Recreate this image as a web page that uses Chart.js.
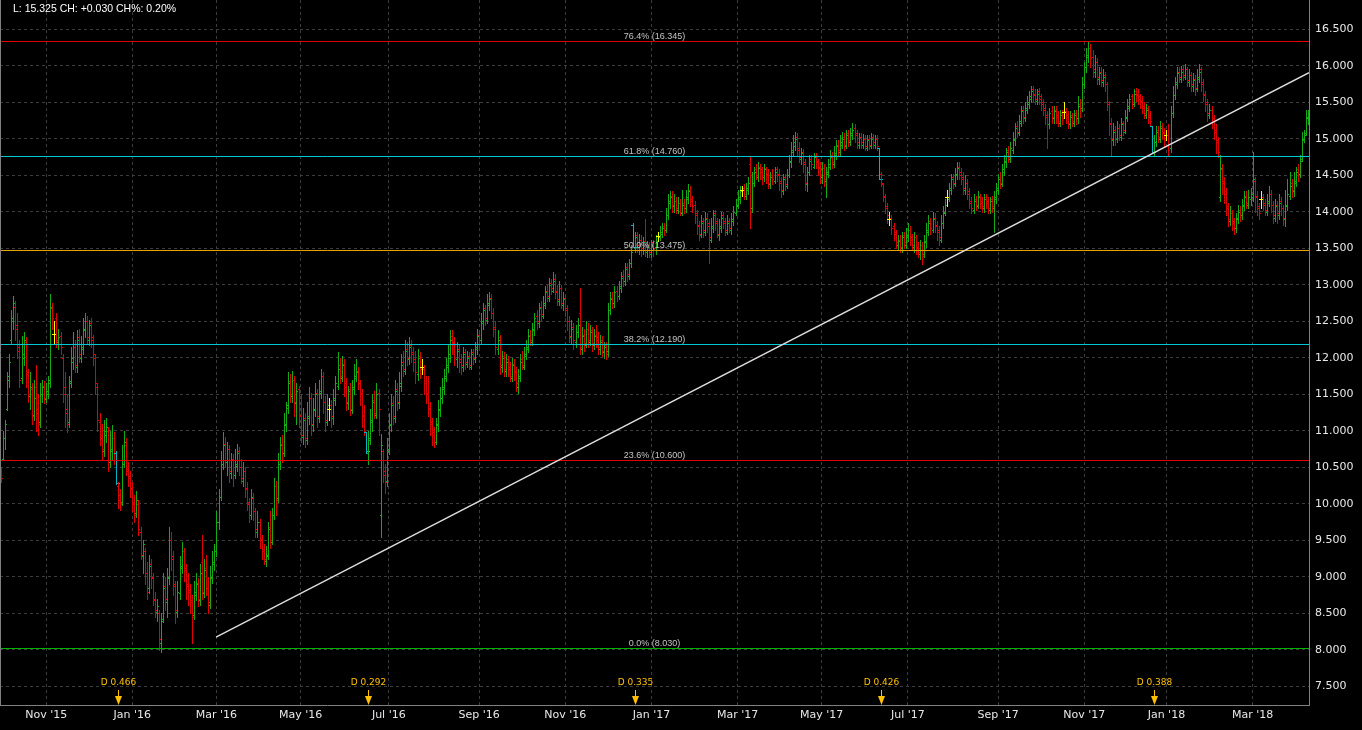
<!DOCTYPE html>
<html><head><meta charset="utf-8">
<script src="https://cdn.jsdelivr.net/npm/chart.js@4.4.1/dist/chart.umd.min.js"></script>
<style>html,body{margin:0;padding:0;background:#000;overflow:hidden}#wrap{width:1362px;height:730px;position:relative;background:#000}</style>
</head><body><div id="wrap"><canvas id="c"></canvas></div>
<script>
// Daily OHLC prices in cents, index 0 = 1 Oct 2015
const opens=[
1045,1062,1090,1130,1170,1225,1250,1270,1245,1210,
1172,1200,1222,1178,1148,1158,1122,1160,1130,1112,
1150,1162,1143,1150,1170,1268,1233,1255,1222,1230,
1200,1160,1130,1112,1168,1195,1215,1188,1228,1200,
1212,1238,1250,1225,1248,1228,1200,1160,1112,1095,
1072,1095,1100,1058,1072,1090,1070,1025,1012,1002,
1055,1080,1048,1038,1022,1002,988,1000,962,928,
935,905,885,918,898,868,852,850,810,842,
888,865,898,950,928,888,852,878,912,935,
912,888,882,868,848,875,892,868,920,878,
912,885,862,898,918,935,975,1010,1055,1082,
1058,1075,1042,1062,1040,1052,1072,1050,1032,1045,
1022,1002,985,1008,990,962,975,952,938,922,
928,968,948,985,1025,1008,1055,1082,1070,1108,
1132,1168,1148,1170,1138,1158,1122,1092,1118,1088,
1118,1145,1108,1128,1152,1118,1152,1175,1140,1112,
1130,1135,1118,1142,1162,1190,1172,1192,1165,1138,
1158,1128,1158,1172,1182,1165,1152,1122,1098,1070,
1088,1112,1142,1122,1152,985,1072,1045,1032,1072,
1108,1138,1118,1158,1138,1162,1195,1182,1212,1198,
1218,1208,1198,1178,1202,1188,1185,1168,1152,1132,
1112,1098,1085,1108,1128,1145,1158,1172,1188,1200,
1230,1222,1198,1212,1198,1188,1208,1192,1202,1188,
1208,1198,1212,1232,1225,1248,1268,1252,1272,1282,
1262,1242,1212,1228,1188,1202,1182,1198,1188,1172,
1192,1182,1160,1172,1198,1188,1202,1212,1232,1222,
1238,1258,1248,1270,1258,1272,1292,1282,1302,1292,
1308,1292,1278,1295,1272,1282,1268,1250,1228,1242,
1222,1235,1262,1212,1232,1218,1240,1222,1238,1218,
1232,1228,1212,1225,1208,1218,1210,1265,1282,1275,
1292,1285,1295,1312,1305,1325,1312,1330,1382,1350,
1368,1352,1362,1348,1360,1345,1355,1342,1358,1348,
1367,1365,1370,1380,1375,1395,1412,1422,1408,1415,
1402,1412,1398,1412,1405,1418,1430,1418,1410,1398,
1382,1368,1388,1372,1392,1385,1362,1378,1398,1388,
1368,1378,1395,1388,1372,1388,1375,1388,1398,1408,
1418,1430,1432,1422,1430,1465,1405,1440,1458,1448,
1462,1458,1448,1460,1452,1438,1450,1442,1458,1452,
1442,1428,1448,1435,1450,1468,1482,1490,1502,1488,
1472,1482,1468,1438,1455,1472,1462,1478,1470,1462,
1448,1460,1442,1452,1462,1478,1465,1478,1492,1482,
1492,1502,1490,1508,1495,1505,1515,1508,1492,1502,
1492,1500,1488,1500,1490,1502,1492,1500,1488,1452,
1438,1422,1408,1390,1392,1380,1372,1355,1362,1350,
1368,1355,1365,1375,1365,1352,1365,1352,1342,1355,
1342,1358,1372,1388,1375,1392,1382,1375,1362,1385,
1398,1420,1418,1430,1448,1438,1450,1462,1455,1448,
1430,1440,1428,1415,1402,1418,1408,1422,1415,1405,
1420,1415,1402,1418,1405,1418,1430,1448,1438,1455,
1468,1485,1472,1485,1498,1518,1508,1522,1540,1528,
1540,1548,1555,1568,1562,1552,1565,1558,1550,1542,
1532,1520,1538,1528,1540,1532,1522,1535,1537,1538,
1532,1520,1532,1522,1535,1528,1548,1542,1575,1598,
1612,1625,1612,1592,1605,1582,1592,1578,1588,1575,
1548,1522,1498,1512,1500,1515,1502,1522,1510,1528,
1542,1558,1548,1565,1562,1558,1552,1545,1532,1542,
1532,1518,1482,1495,1512,1500,1518,1510,1505,1505,
1488,1535,1560,1575,1592,1582,1595,1585,1595,1578,
1588,1572,1582,1568,1582,1595,1578,1562,1550,1532,
1540,1528,1512,1498,1420,1458,1442,1428,1408,1388,
1398,1388,1378,1390,1402,1395,1408,1422,1410,1418,
1420,1442,1422,1408,1418,1420,1412,1400,1412,1425,
1410,1392,1410,1395,1415,1405,1390,1408,1422,1440,
1428,1440,1458,1452,1472,1498,1508,1528];
const highs=[
1050,1100,1115,1180,1205,1265,1285,1278,1262,1225,
1230,1235,1228,1185,1180,1165,1170,1190,1150,1165,
1170,1168,1165,1175,1288,1275,1250,1262,1240,1235,
1205,1180,1150,1175,1215,1235,1225,1238,1240,1230,
1255,1262,1258,1252,1255,1232,1205,1165,1125,1110,
1115,1118,1105,1100,1108,1098,1072,1030,1020,1080,
1100,1090,1058,1045,1030,1012,1018,1005,968,950,
940,920,930,925,905,880,870,855,850,905,
900,912,968,962,935,895,895,928,948,940,
918,905,890,875,895,905,898,918,958,925,
930,900,915,935,945,990,1020,1072,1098,1092,
1085,1080,1070,1068,1075,1082,1078,1062,1058,1050,
1030,1008,1020,1015,995,990,980,958,945,942,
975,990,995,1035,1032,1070,1092,1095,1125,1140,
1180,1178,1182,1175,1165,1162,1150,1132,1125,1140,
1160,1152,1145,1165,1158,1170,1185,1180,1148,1150,
1145,1142,1158,1175,1208,1200,1202,1198,1172,1162,
1165,1170,1192,1198,1188,1170,1158,1135,1098,1100,
1130,1150,1155,1165,1158,1096,1075,1055,1090,1125,
1150,1148,1170,1165,1180,1205,1210,1225,1222,1228,
1225,1215,1210,1212,1208,1198,1190,1175,1175,1140,
1118,1105,1118,1142,1160,1172,1185,1200,1218,1238,
1238,1228,1222,1218,1205,1215,1212,1210,1208,1212,
1212,1222,1240,1238,1262,1275,1272,1288,1290,1288,
1268,1250,1238,1232,1210,1208,1205,1202,1195,1200,
1198,1188,1185,1205,1210,1215,1225,1240,1238,1248,
1262,1265,1275,1278,1285,1298,1300,1310,1308,1318,
1315,1300,1305,1300,1290,1288,1272,1258,1252,1248,
1245,1255,1295,1242,1240,1250,1248,1245,1242,1240,
1245,1235,1232,1230,1222,1222,1275,1290,1290,1298,
1298,1305,1318,1320,1330,1330,1335,1355,1385,1372,
1372,1370,1368,1365,1390,1360,1358,1362,1362,1368,
1373,1380,1385,1385,1405,1425,1428,1428,1425,1420,
1420,1418,1430,1418,1430,1438,1435,1422,1415,1402,
1388,1395,1392,1400,1398,1390,1392,1402,1402,1392,
1390,1400,1400,1392,1395,1392,1398,1408,1418,1430,
1436,1435,1438,1440,1448,1475,1455,1462,1465,1468,
1465,1462,1465,1462,1458,1455,1458,1462,1462,1458,
1448,1452,1452,1458,1478,1495,1505,1510,1508,1495,
1488,1486,1472,1462,1478,1478,1480,1480,1472,1468,
1468,1465,1462,1472,1485,1482,1490,1498,1498,1505,
1510,1508,1512,1512,1515,1522,1520,1512,1508,1508,
1506,1505,1505,1505,1508,1506,1505,1505,1488,1455,
1440,1425,1412,1400,1396,1385,1375,1368,1368,1372,
1372,1378,1385,1380,1370,1372,1368,1358,1362,1358,
1368,1385,1395,1392,1400,1398,1388,1380,1395,1408,
1418,1430,1440,1452,1452,1460,1468,1468,1460,1455,
1450,1445,1432,1420,1425,1422,1428,1425,1420,1425,
1425,1420,1420,1422,1428,1440,1452,1455,1465,1478,
1488,1490,1495,1510,1522,1525,1532,1545,1545,1550,
1558,1565,1572,1572,1568,1568,1570,1562,1555,1548,
1538,1542,1545,1545,1545,1538,1540,1540,1550,1542,
1538,1538,1535,1540,1540,1558,1555,1585,1605,1625,
1632,1630,1622,1615,1610,1598,1598,1595,1592,1578,
1552,1528,1522,1518,1525,1520,1528,1525,1540,1555,
1562,1562,1568,1570,1568,1562,1558,1550,1548,1545,
1538,1518,1505,1518,1518,1525,1522,1515,1512,1520,
1545,1572,1585,1598,1598,1600,1600,1602,1598,1595,
1592,1590,1588,1595,1602,1598,1582,1565,1555,1548,
1545,1532,1520,1502,1478,1465,1448,1432,1412,1408,
1402,1392,1398,1410,1408,1418,1428,1428,1430,1432,
1482,1448,1428,1412,1428,1425,1418,1425,1435,1430,
1415,1418,1415,1425,1420,1410,1430,1445,1455,1445,
1455,1462,1465,1478,1510,1512,1540,1540];
const lows=[
1030,1060,1075,1128,1160,1220,1240,1225,1200,1160,
1165,1190,1160,1140,1130,1110,1115,1100,1095,1105,
1140,1138,1140,1145,1160,1240,1220,1215,1212,1205,
1140,1105,1098,1105,1160,1185,1180,1180,1195,1195,
1205,1228,1220,1218,1215,1190,1150,1100,1080,1062,
1065,1085,1045,1050,1062,1055,1027,995,992,998,
1050,1040,1025,1010,990,975,982,958,925,905,
890,870,878,885,862,845,840,800,797,838,
855,845,890,910,875,837,845,870,905,895,
870,862,850,810,842,868,860,862,870,872,
875,850,858,892,910,928,965,1005,1048,1050,
1040,1030,1035,1025,1035,1045,1040,1028,1025,1010,
992,975,980,978,955,955,940,925,918,915,
925,940,945,980,985,1002,1048,1058,1065,1100,
1125,1140,1140,1120,1110,1105,1085,1082,1078,1082,
1110,1095,1100,1120,1105,1112,1145,1125,1100,1108,
1115,1105,1110,1135,1158,1165,1168,1148,1128,1130,
1122,1125,1150,1168,1158,1135,1105,1095,1070,1055,
1082,1100,1118,1118,1095,955,1030,1015,1025,1068,
1100,1110,1112,1128,1132,1155,1175,1178,1190,1192,
1195,1182,1165,1170,1172,1178,1150,1138,1120,1095,
1080,1078,1082,1100,1120,1138,1150,1168,1180,1195,
1205,1190,1188,1180,1178,1182,1185,1188,1185,1185,
1192,1195,1205,1215,1220,1240,1245,1248,1265,1255,
1230,1205,1205,1178,1180,1175,1175,1175,1168,1168,
1170,1155,1152,1168,1185,1185,1198,1208,1218,1218,
1232,1240,1242,1252,1255,1268,1278,1278,1288,1290,
1282,1272,1272,1268,1265,1258,1238,1222,1220,1212,
1215,1228,1205,1205,1210,1215,1215,1218,1210,1212,
1215,1205,1205,1203,1200,1198,1203,1260,1268,1270,
1278,1280,1290,1298,1300,1305,1308,1325,1352,1345,
1345,1342,1340,1342,1340,1338,1338,1338,1340,1342,
1360,1362,1365,1368,1372,1390,1405,1400,1400,1398,
1398,1395,1395,1398,1400,1412,1408,1400,1385,1370,
1362,1365,1365,1368,1372,1330,1358,1372,1375,1365,
1362,1372,1378,1368,1370,1372,1370,1382,1395,1405,
1412,1422,1418,1418,1425,1378,1400,1435,1445,1442,
1445,1438,1442,1440,1432,1432,1438,1440,1442,1430,
1420,1425,1430,1432,1448,1462,1478,1485,1478,1468,
1465,1455,1430,1428,1450,1458,1460,1460,1450,1440,
1440,1435,1420,1448,1458,1460,1462,1472,1478,1478,
1488,1485,1488,1490,1492,1500,1495,1488,1488,1488,
1488,1485,1485,1486,1488,1488,1488,1485,1445,1435,
1415,1398,1385,1382,1370,1362,1350,1348,1345,1345,
1350,1350,1360,1355,1348,1345,1342,1338,1335,1328,
1338,1352,1368,1370,1372,1372,1362,1355,1358,1378,
1395,1408,1415,1425,1432,1435,1445,1445,1438,1425,
1425,1418,1405,1398,1398,1402,1405,1405,1400,1400,
1405,1398,1398,1400,1372,1412,1425,1432,1435,1450,
1462,1468,1468,1480,1492,1502,1505,1518,1522,1525,
1535,1542,1550,1552,1548,1548,1548,1540,1532,1520,
1488,1515,1522,1522,1522,1518,1518,1520,1528,1522,
1515,1515,1518,1518,1520,1522,1530,1538,1570,1592,
1605,1598,1585,1585,1575,1575,1572,1572,1565,1540,
1505,1478,1492,1492,1495,1498,1498,1505,1508,1525,
1538,1542,1545,1552,1548,1542,1535,1528,1528,1522,
1518,1480,1478,1490,1495,1495,1500,1490,1498,1478,
1482,1530,1555,1570,1578,1578,1580,1582,1572,1572,
1565,1565,1560,1565,1578,1565,1552,1538,1525,1528,
1515,1500,1480,1475,1415,1425,1412,1395,1380,1382,
1375,1370,1372,1385,1388,1390,1402,1405,1405,1410,
1415,1400,1395,1390,1405,1402,1395,1395,1408,1400,
1385,1388,1385,1390,1395,1382,1380,1402,1418,1420,
1422,1435,1442,1448,1470,1495,1505,1520];
const closes=[
1035,1090,1110,1175,1195,1255,1275,1240,1215,1170,
1205,1225,1180,1150,1160,1120,1145,1125,1110,1150,
1160,1145,1155,1165,1270,1255,1233,1225,1228,1215,
1150,1125,1110,1165,1200,1215,1190,1225,1205,1215,
1240,1250,1228,1245,1225,1205,1165,1115,1090,1075,
1100,1105,1060,1075,1090,1070,1028,1005,1000,1060,
1085,1045,1035,1020,1000,985,1005,965,930,945,
905,880,915,900,870,855,860,815,840,885,
870,900,950,925,890,855,880,915,935,910,
890,880,865,845,880,890,870,905,880,910,
885,865,900,920,935,975,1010,1055,1080,1060,
1075,1045,1060,1040,1055,1070,1050,1035,1045,1020,
1000,985,1010,990,965,975,950,935,925,930,
965,950,985,1025,1005,1055,1080,1070,1110,1135,
1165,1150,1170,1140,1155,1120,1095,1115,1090,1120,
1145,1110,1130,1150,1120,1155,1175,1140,1115,1135,
1130,1120,1145,1165,1185,1175,1190,1160,1140,1155,
1130,1160,1175,1180,1165,1150,1120,1100,1072,1090,
1115,1140,1125,1150,1130,1080,1040,1030,1075,1110,
1135,1120,1155,1140,1165,1190,1185,1210,1200,1215,
1205,1195,1180,1200,1185,1188,1165,1150,1130,1110,
1095,1085,1110,1130,1145,1160,1175,1190,1205,1225,
1220,1200,1210,1195,1190,1205,1195,1200,1190,1205,
1200,1215,1230,1225,1250,1265,1255,1275,1280,1262,
1240,1215,1225,1190,1200,1185,1195,1185,1175,1190,
1180,1165,1175,1195,1190,1205,1215,1230,1225,1240,
1255,1250,1268,1260,1275,1290,1285,1300,1295,1305,
1290,1280,1295,1275,1280,1265,1250,1230,1240,1225,
1235,1245,1215,1230,1220,1240,1225,1235,1220,1230,
1225,1215,1222,1210,1215,1205,1265,1280,1275,1290,
1285,1298,1310,1305,1322,1315,1330,1345,1352,1365,
1355,1362,1350,1358,1348,1352,1345,1355,1350,1360,
1367,1372,1378,1375,1395,1415,1420,1410,1415,1405,
1412,1400,1410,1405,1420,1428,1415,1408,1395,1380,
1370,1385,1375,1390,1380,1365,1380,1395,1385,1370,
1380,1392,1385,1375,1385,1378,1390,1400,1410,1420,
1428,1430,1425,1432,1440,1400,1440,1455,1450,1460,
1455,1448,1458,1450,1440,1448,1445,1455,1450,1440,
1430,1445,1438,1450,1470,1485,1495,1500,1485,1475,
1480,1465,1440,1455,1470,1465,1475,1468,1460,1450,
1460,1445,1455,1465,1475,1468,1480,1490,1485,1495,
1500,1492,1505,1498,1508,1512,1505,1495,1502,1495,
1500,1490,1498,1492,1500,1495,1500,1490,1445,1440,
1420,1405,1395,1390,1378,1370,1358,1360,1352,1365,
1358,1368,1375,1362,1355,1365,1350,1345,1355,1340,
1360,1375,1385,1378,1390,1380,1372,1365,1385,1400,
1410,1420,1432,1445,1440,1452,1460,1450,1445,1432,
1440,1425,1412,1405,1415,1410,1420,1412,1408,1418,
1412,1405,1415,1408,1420,1432,1445,1440,1458,1470,
1482,1475,1488,1500,1515,1510,1525,1538,1530,1542,
1550,1558,1565,1560,1555,1562,1555,1548,1540,1530,
1520,1535,1530,1538,1530,1525,1532,1528,1537,1530,
1522,1530,1525,1532,1528,1545,1540,1575,1598,1615,
1625,1610,1595,1605,1585,1590,1580,1585,1575,1550,
1520,1500,1510,1500,1515,1505,1520,1512,1530,1545,
1555,1550,1562,1560,1555,1550,1542,1535,1540,1530,
1525,1482,1495,1510,1502,1515,1508,1498,1505,1485,
1535,1560,1578,1590,1585,1592,1588,1595,1580,1588,
1575,1580,1570,1585,1592,1575,1560,1548,1535,1540,
1525,1510,1495,1482,1460,1440,1425,1405,1390,1398,
1385,1378,1392,1400,1395,1410,1420,1412,1420,1425,
1445,1420,1405,1398,1418,1410,1402,1415,1425,1410,
1395,1408,1398,1412,1405,1392,1410,1425,1435,1430,
1442,1455,1450,1470,1500,1505,1529.5,1532.5];

// x-axis month ticks (trading-day index) and their labels
const monthTickIdx=[22,64,105,146,189,233,275,317,359,400,442,486,528,568,610];
const monthTickLabels=["Nov '15","Jan '16","Mar '16","May '16","Jul '16","Sep '16","Nov '16","Jan '17","Mar '17","May '17","Jul '17","Sep '17","Nov '17","Jan '18","Mar '18"];
// y-axis tick values
const yTickValues=[7.5,8,8.5,9,9.5,10,10.5,11,11.5,12,12.5,13,13.5,14,14.5,15,15.5,16,16.5];
// Fibonacci retracement levels
const fibPct=[76.4,61.8,50.0,38.2,23.6,0.0];
const fibValues=[16.345,14.760,13.475,12.190,10.600,8.030];
const fibColors=['#e00000','#00c8d2','#e6a000','#00c8d2','#e00000','#00b400'];
// dividends
const divBarIdx=[56,178,308,428,561];
const divMarkIdx=[57,179,309,429,562];
const divAmount=[0.466,0.292,0.335,0.426,0.388];
// trend line
const trendX=[104.8,637.5];
const trendY=[8.175,15.905];

const N=closes.length;
const upColor='#14ac14', downColor='#e00000', dojiColor='#ffff00', divColor='#00b4c8';
function barColor(i){
  if(divBarIdx.includes(i)) return divColor;
  if(closes[i]>opens[i]) return upColor;
  if(closes[i]<opens[i]) return downColor;
  return dojiColor;
}
function noPad(s){s.paddingTop=0;s.paddingBottom=0;s.paddingLeft=0;s.paddingRight=0;}

const ohlcPlugin={
  id:'ohlc',
  beforeDatasetsDraw(chart){
    const {ctx,chartArea:a,scales:{x,y}}=chart;
    ctx.save();
    ctx.beginPath();ctx.rect(a.left,a.top,a.right-a.left,a.bottom-a.top);ctx.clip();
    for(let i=0;i<N;i++){
      const px=Math.round(x.getPixelForValue(i));
      const yh=Math.round(y.getPixelForValue(highs[i]/100));
      const yl=Math.round(y.getPixelForValue(lows[i]/100));
      const yo=Math.round(y.getPixelForValue(opens[i]/100));
      const yc=Math.round(y.getPixelForValue(closes[i]/100));
      const special=barColor(i)===dojiColor||divBarIdx.includes(i);
      ctx.fillStyle=barColor(i);
      ctx.fillRect(px,yh,1,Math.max(1,yl-yh+1));
      ctx.fillRect(px-(special?2:1),yo,special?2:1,1);
      ctx.fillRect(px+1,yc,special?(divBarIdx.includes(i)?3:2):1,1);
    }
    fibValues.forEach((v,k)=>{
      const py=Math.round(y.getPixelForValue(v))+0.5;
      ctx.strokeStyle=fibColors[k];ctx.lineWidth=1;
      ctx.beginPath();ctx.moveTo(a.left,py);ctx.lineTo(a.right,py);ctx.stroke();
    });
    ctx.restore();
  },
  afterDatasetsDraw(chart){
    const {ctx,chartArea:a,scales:{x,y}}=chart;
    ctx.save();
    ctx.strokeStyle='#808080';ctx.lineWidth=1;
    ctx.beginPath();ctx.moveTo(a.left+0.5,a.top);ctx.lineTo(a.left+0.5,a.bottom);ctx.stroke();
    ctx.font='9px "Liberation Sans", Arial, sans-serif';
    ctx.fillStyle='#c4c4c4';ctx.textAlign='center';ctx.textBaseline='alphabetic';
    const cx=(a.left+a.right)/2;
    fibValues.forEach((v,k)=>{
      const py=Math.round(y.getPixelForValue(v));
      ctx.fillText(fibPct[k].toFixed(1)+'% ('+v.toFixed(3)+')',cx,py-2);
    });
    ctx.font='9px "DejaVu Sans", sans-serif';
    ctx.fillStyle='#ffc000';ctx.strokeStyle='#ffc000';
    ctx.textBaseline='middle';
    divMarkIdx.forEach((d,k)=>{
      const px=Math.round(x.getPixelForValue(d))+0.5;
      ctx.fillText('D '+divAmount[k].toFixed(3),px,a.bottom-22);
      ctx.beginPath();ctx.moveTo(px,a.bottom-15);ctx.lineTo(px,a.bottom-6);ctx.stroke();
      ctx.beginPath();ctx.moveTo(px-3.5,a.bottom-9);ctx.lineTo(px+3.5,a.bottom-9);ctx.lineTo(px,a.bottom);ctx.closePath();ctx.fill();
    });
    const last=closes[N-1]/100, prev=closes[N-2]/100, ch=last-prev, pct=ch/prev*100;
    ctx.font='10.5px "Liberation Sans", Arial, sans-serif';
    ctx.fillStyle='#ffffff';ctx.textAlign='left';ctx.textBaseline='middle';
    ctx.fillText('L: '+last.toFixed(3)+' CH: '+(ch>=0?'+':'')+ch.toFixed(3)+' CH%: '+pct.toFixed(2)+'%',13,9.5);
    ctx.restore();
  }
};

new Chart(document.getElementById('c'),{
  type:'line',
  data:{datasets:[{
    label:'Trend',
    data:trendX.map((v,k)=>({x:v,y:trendY[k]})),
    borderColor:'#dedede',borderWidth:1.4,pointRadius:0,tension:0,fill:false
  }]},
  options:{
    responsive:true,maintainAspectRatio:false,animation:false,devicePixelRatio:1,
    layout:{padding:0},
    plugins:{legend:{display:false},tooltip:{enabled:false},title:{display:false}},
    scales:{
      x:{type:'linear',position:'bottom',min:-0.5,max:N-0.5,
        afterBuildTicks:s=>{s.ticks=monthTickIdx.map(v=>({value:v}));},
        afterFit:s=>{s.height=25;noPad(s);},
        grid:{color:'#3c3c3c',lineWidth:1,drawTicks:false},
        border:{display:true,color:'#808080',width:1,dash:[3,3]},
        ticks:{autoSkip:false,maxRotation:0,minRotation:0,padding:4,color:'#e8e8e8',
          font:{family:'"DejaVu Sans", sans-serif',size:11},
          callback:v=>{const k=monthTickIdx.indexOf(v);return k>=0?monthTickLabels[k]:'';}}
      },
      y:{type:'linear',position:'right',min:7.246,max:16.901,
        afterBuildTicks:s=>{s.ticks=yTickValues.map(v=>({value:v}));},
        afterFit:s=>{s.width=53;noPad(s);},
        grid:{color:'#3c3c3c',lineWidth:1,drawTicks:false},
        border:{display:true,color:'#808080',width:1,dash:[3,3]},
        ticks:{padding:6,color:'#e8e8e8',font:{family:'"DejaVu Sans", sans-serif',size:11},
          callback:v=>Number(v).toFixed(3)}
      }
    }
  },
  plugins:[ohlcPlugin]
});
</script>
</body></html>
